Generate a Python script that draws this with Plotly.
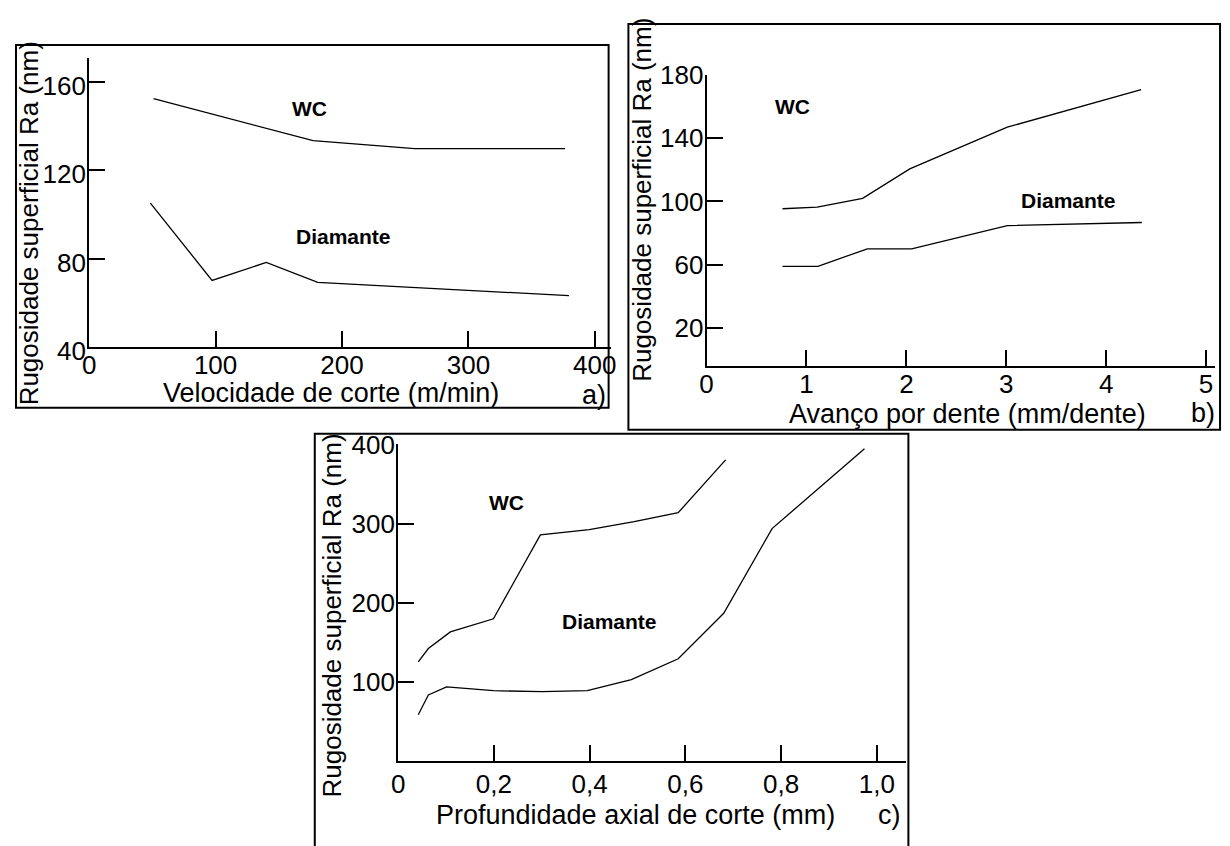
import plotly.graph_objects as go

# The html page has an 8px body margin; positions below are page pixels.
OFF = 8
W, H = 1230 - OFF, 846 - OFF
FONT = "Liberation Sans, Arial, sans-serif"

# ---- Panel a: Velocidade de corte ----
a_wc_x = [50.9, 177.1, 257.5, 376.5]
a_wc_y = [152.3, 133.3, 129.7, 129.7]
a_di_x = [48.4, 97.2, 140.1, 180.8, 379.6]
a_di_y = [105.1, 70.2, 78.3, 69.3, 63.3]
a_xticks = [0, 100, 200, 300, 400]
a_yticks = [40, 80, 120, 160]

# ---- Panel b: Avanço por dente ----
b_wc_x = [0.76, 1.107, 1.562, 2.034, 3.01, 4.35]
b_wc_y = [95.4, 96.4, 102.0, 120.6, 146.9, 170.7]
b_di_x = [0.76, 1.115, 1.609, 2.053, 3.01, 4.357]
b_di_y = [59.0, 59.0, 70.1, 70.1, 84.7, 86.7]
b_xticks = [0, 1, 2, 3, 4, 5]
b_yticks = [20, 60, 100, 140, 180]

# ---- Panel c: Profundidade axial de corte ----
c_wc_x = [0.042, 0.063, 0.109, 0.199, 0.297, 0.399, 0.493, 0.585, 0.684]
c_wc_y = [125.3, 142.2, 163.2, 179.8, 285.7, 292.5, 302.6, 313.9, 380.6]
c_di_x = [0.042, 0.063, 0.101, 0.199, 0.301, 0.395, 0.487, 0.585, 0.680, 0.781, 0.974]
c_di_y = [58.6, 83.6, 93.7, 88.9, 87.7, 88.9, 103.0, 129.3, 186.7, 293.7, 394.7]
c_xticks = [0, 0.2, 0.4, 0.6, 0.8, 1.0]
c_xticktext = ["0", "0,2", "0,4", "0,6", "0,8", "1,0"]
c_yticks = [100, 200, 300, 400]

y_title = "Rugosidade superficial Ra (nm)"
x_titles = ["Velocidade de corte (m/min)", "Avanço por dente (mm/dente)",
            "Profundidade axial de corte (mm)"]
panel_tags = ["a)", "b)", "c)"]
series_names = ["WC", "Diamante"]


def px(x):
    return (x - OFF) / W


def py(y):
    return 1 - (y - OFF) / H


fig = go.Figure()
line = dict(color="black", width=1.3)
for xs, ys, ax in [(a_wc_x, a_wc_y, ""), (a_di_x, a_di_y, ""),
                   (b_wc_x, b_wc_y, "2"), (b_di_x, b_di_y, "2"),
                   (c_wc_x, c_wc_y, "3"), (c_di_x, c_di_y, "3")]:
    fig.add_trace(go.Scatter(x=xs, y=ys, mode="lines", line=line,
                             xaxis="x" + ax, yaxis="y" + ax, showlegend=False,
                             hoverinfo="skip"))


def axis(**kw):
    d = dict(showline=True, linewidth=2, linecolor="black", ticks="inside",
             ticklen=16, tickwidth=1.5, tickcolor="black", showgrid=False,
             zeroline=False, tickfont=dict(family=FONT, size=26, color="black"),
             fixedrange=True)
    d.update(kw)
    return d


fig.update_layout(
    width=W, height=H, margin=dict(l=0, r=0, t=0, b=0),
    paper_bgcolor="white", plot_bgcolor="white", showlegend=False,
    xaxis=axis(domain=[px(83), px(610)], range=[0, 412.5], tickvals=a_xticks,
               anchor="y", ticklabelstandoff=-6),
    yaxis=axis(domain=[py(346), py(45)], range=[40, 170.4], tickvals=a_yticks,
               anchor="x", ticklabelstandoff=-4, ticklabelshift=4),
    xaxis2=axis(domain=[px(707), px(1221)], range=[0, 5.09], tickvals=b_xticks,
                anchor="y2", ticklabelstandoff=-6),
    yaxis2=axis(domain=[py(365), py(62)], range=[-3.64, 180], tickvals=b_yticks,
                anchor="x2", ticklabelstandoff=-4),
    xaxis3=axis(domain=[px(395.3), px(908.7)], range=[0, 1.061], tickvals=c_xticks,
                ticktext=c_xticktext, anchor="y3", ticklabelstandoff=-1),
    yaxis3=axis(domain=[py(777.3), py(447.3)], range=[0, 400], tickvals=c_yticks,
                anchor="x3", ticklabelstandoff=-4),
)

# panel frames
for (x0, y0, x1, y1) in [(9, 31, 608, 409), (628, 9, 1226, 432), (311, 436, 911, 880)]:
    fig.add_shape(type="rect", xref="paper", yref="paper",
                  x0=px(x0), x1=px(x1), y0=py(y1), y1=py(y0),
                  line=dict(color="black", width=2), fillcolor="rgba(0,0,0,0)")

tfont = dict(family=FONT, size=27, color="black")
yfont = dict(family=FONT, size=26, color="black")
# y titles
for (x, y) in [(22, 217), (641, 192), (328, 626)]:
    fig.add_annotation(xref="paper", yref="paper", x=px(x), y=py(y), text=y_title,
                       textangle=-90, showarrow=False, font=yfont,
                       xanchor="center", yanchor="middle")
# x titles and panel tags
for title, tag, (tx, ty), (gx, gy) in zip(
        x_titles, panel_tags,
        [(327, 394), (971, 416), (635, 834)],
        [(607, 396), (1223, 415), (906, 834)]):
    fig.add_annotation(xref="paper", yref="paper", x=px(tx), y=py(ty), text=title,
                       showarrow=False, font=tfont, xanchor="center", yanchor="middle")
    fig.add_annotation(xref="paper", yref="paper", x=px(gx), y=py(gy), text=tag,
                       showarrow=False, font=tfont, xanchor="right", yanchor="middle")

# series labels (in data coordinates)
lfont = dict(family=FONT, size=21, color="black", weight="bold")
for ax, pos in [("", [(174.6, 148), (201, 90)]),
                ("2", [(0.86, 160), (3.62, 100.7)]),
                ("3", [(0.226, 326.9), (0.441, 176.6)])]:
    for name, (x, y) in zip(series_names, pos):
        fig.add_annotation(xref="x" + ax, yref="y" + ax, x=x, y=y, text=name,
                           showarrow=False, font=lfont)

fig.write_html("out.html")
